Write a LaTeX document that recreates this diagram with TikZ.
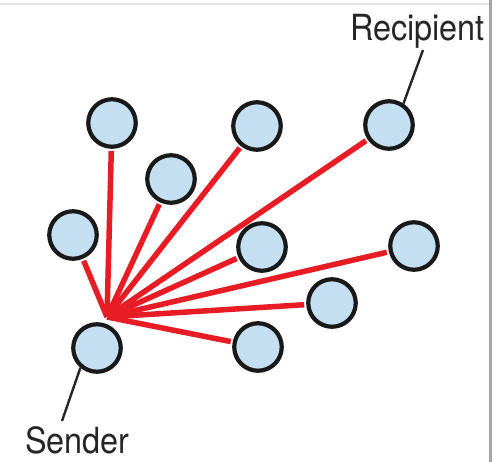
\documentclass[tikz,border=0pt]{standalone}
\usepackage{fontspec}
\newfontfamily\labelfont{TeX Gyre Heros}
\usetikzlibrary{positioning}
\definecolor{hostblue}{RGB}{196,222,242}
\definecolor{linkred}{RGB}{232,28,36}

\begin{document}
\begin{tikzpicture}[x=1pt,y=-1pt,
  host/.style={circle,draw=black!90,fill=hostblue,line width=4.2pt,minimum size=47.5pt,inner sep=0pt},
  link/.style={linkred,line width=5.5pt},
  leader/.style={black!85,line width=2.4pt},
  lbl/.style={font=\labelfont\fontsize{36}{36}\selectfont,inner sep=0pt,text=black!85}]
\useasboundingbox (0,0) rectangle (504,462);

% frame of the scan
\draw[black!10,line width=2pt] (0,4) -- (490,4);
\draw[black!35,line width=3pt] (490,0) -- (490,462);

\node[host] (snd) at (97,348) {};
\node[host] (rcp) at (389,125) {};
\node[host] (n1) at (112,123) {};
\node[host] (n2) at (171,179) {};
\node[host] (n3) at (257,126) {};
\node[host] (n4) at (73,235) {};
\node[host] (n5) at (262,247) {};
\node[host] (n6) at (414,246) {};
\node[host] (n7) at (332,303) {};
\node[host] (n8) at (258,347) {};

\coordinate (hub) at (107,317);
\foreach \n in {n1,n2,n3,n4,n5,n6,n7,n8,rcp}
{
	\draw[link,shorten >=2pt] (hub) -- (\n);
}

\node[lbl,anchor=base west] (sndlbl) at (25,454) {\scalebox{0.9}[1]{Sender}};
\node[lbl,anchor=base west] (rcplbl) at (350,41) {\scalebox{0.9}[1]{Recipient}};
\coordinate (sndtip) at (62,421);
\coordinate (rcptip) at (423,50);
\draw[leader] (snd.230) -- (sndtip);
\draw[leader] (rcp.56) -- (rcptip);

\end{tikzpicture}
\end{document}
